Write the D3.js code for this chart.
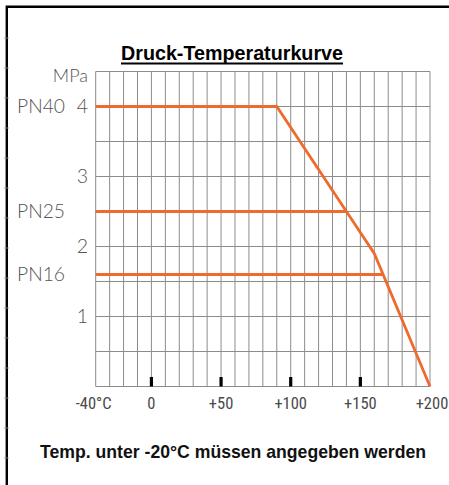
<!DOCTYPE html>
<html>
<head>
<meta charset="utf-8">
<script src="https://cdn.jsdelivr.net/npm/d3@7"></script>
<style>
  html, body { margin: 0; padding: 0; background: #fff; }
  svg { display: block; }
</style>
</head>
<body>
<svg id="chart" width="449" height="485"></svg>
<script>
// ---- data ----
const title = "Druck-Temperaturkurve";
const footnote = "Temp. unter -20°C müssen angegeben werden";
const unitLabel = "MPa";
const xTickValues = [-40, 0, 50, 100, 150, 200];
const xTickLabels = ["-40°C", "0", "+50", "+100", "+150", "+200"];
const xMarkTicks = [0, 50, 100, 150];
const yTickValues = [1, 2, 3, 4];
const yTickLabels = ["1", "2", "3", "4"];
const pnNames = ["PN40", "PN25", "PN16"];
const pnValues = [4, 2.5, 1.6];
const curvePN40 = [[-40, 4], [90, 4], [140, 2.5], [160, 1.9], [200, 0]];
const curvePN25 = [[-40, 2.5], [140, 2.5]];
const curvePN16 = [[-40, 1.6], [166, 1.6]];

// ---- drawing ----
const svg = d3.select("#chart");
const x = d3.scaleLinear().domain([-40, 200]).range([95.7, 430]);
const y = d3.scaleLinear().domain([0, 4.5]).range([386.5, 71.5]);
const orange = "#ee6b2d";
const gridCol = "#8c8c8c";
const labelFont = "Lato, 'DejaVu Sans', sans-serif";

// frame
svg.append("path")
  .attr("d", "M6.8,485 V6.8 H449")
  .attr("fill", "none").attr("stroke", "#000").attr("stroke-width", 2.4);
// faint ruler ticks on left frame
const rulerY = d3.range(0, 16).map(i => 38 + i * 30);
svg.selectAll(".rt").data(rulerY).enter().append("line")
  .attr("x1", 4).attr("x2", 9).attr("y1", d => d).attr("y2", d => d)
  .attr("stroke", "#999").attr("stroke-width", 0.8);

// grid
const g = svg.append("g");
g.selectAll(".vg").data(d3.range(-40, 201, 10)).enter().append("line")
  .attr("x1", d => x(d)).attr("x2", d => x(d))
  .attr("y1", y(4.5)).attr("y2", y(0))
  .attr("stroke", gridCol).attr("stroke-width", 1);
g.selectAll(".hg").data(d3.range(0, 4.51, 0.5)).enter().append("line")
  .attr("x1", x(-40)).attr("x2", x(200))
  .attr("y1", d => y(d)).attr("y2", d => y(d))
  .attr("stroke", gridCol).attr("stroke-width", 1);

// x tick marks (black bars)
svg.selectAll(".xm").data(xMarkTicks).enter().append("rect")
  .attr("x", d => x(d) - 1.6).attr("width", 3.2)
  .attr("y", y(0) - 9.5).attr("height", 9.5)
  .attr("fill", "#000");

// lines
const line = d3.line().x(d => x(d[0])).y(d => y(d[1]));
[curvePN16, curvePN25, curvePN40].forEach(c => {
  svg.append("path").attr("d", line(c))
    .attr("fill", "none").attr("stroke", orange)
    .attr("stroke-width", 2.8).attr("stroke-linejoin", "miter");
});

// x labels
svg.selectAll(".xl").data(xTickValues).enter().append("text")
  .attr("x", (d, i) => x(d) + (i === 0 ? -2 : i === 5 ? 2 : 0))
  .attr("y", 409)
  .attr("text-anchor", "middle")
  .attr("font-family", "'Liberation Sans Narrow', 'Roboto Condensed', 'Liberation Sans', sans-serif")
  .attr("font-size", 16.5)
  .attr("fill", "#4a4a4a")
  .text((d, i) => xTickLabels[i]);

// y labels
svg.selectAll(".yl").data(yTickValues).enter().append("text")
  .attr("x", 88).attr("y", d => y(d) + 6.8)
  .attr("text-anchor", "end")
  .attr("font-family", labelFont).attr("font-weight", 300)
  .attr("font-size", 19.5).attr("fill", "#555")
  .text((d, i) => yTickLabels[i]);
svg.append("text").attr("x", 88).attr("y", 82)
  .attr("text-anchor", "end")
  .attr("font-family", labelFont).attr("font-weight", 300)
  .attr("font-size", 18).attr("fill", "#555")
  .text(unitLabel);
svg.selectAll(".pn").data(pnValues).enter().append("text")
  .attr("x", 17).attr("y", d => y(d) + 6.8)
  .attr("font-family", labelFont).attr("font-weight", 300)
  .attr("font-size", 19).attr("fill", "#555")
  .attr("textLength", 48).attr("lengthAdjust", "spacingAndGlyphs")
  .text((d, i) => pnNames[i]);

// title
svg.append("text").attr("x", 232).attr("y", 60)
  .attr("text-anchor", "middle")
  .attr("font-family", "'Liberation Sans', Arial, sans-serif")
  .attr("font-weight", "bold").attr("font-size", 19.5)
  .attr("fill", "#000")
  .attr("textLength", 222).attr("lengthAdjust", "spacingAndGlyphs")
  .text(title);
svg.append("line")
  .attr("x1", 121).attr("x2", 343)
  .attr("y1", 63.5).attr("y2", 63.5)
  .attr("stroke", "#000").attr("stroke-width", 1.8);

// footnote
svg.append("text").attr("x", 233).attr("y", 458)
  .attr("text-anchor", "middle")
  .attr("font-family", "'Liberation Sans Narrow', 'Liberation Sans', Arial, sans-serif")
  .attr("font-weight", "bold").attr("font-size", 18.5)
  .attr("fill", "#111")
  .attr("textLength", 386).attr("lengthAdjust", "spacingAndGlyphs")
  .text(footnote);
</script>
</body>
</html>
